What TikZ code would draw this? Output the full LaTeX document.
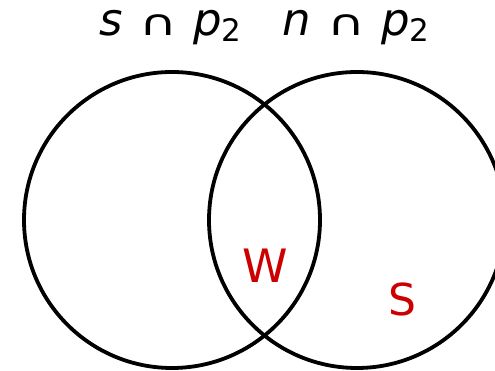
\documentclass[tikz,border=0pt]{standalone}
\usepackage{fontspec}
\setmainfont{DejaVu Sans}
\usetikzlibrary{positioning}

\definecolor{setred}{RGB}{204,0,0}
\newcommand{\capsym}{\hspace{0.36em}{\fontsize{40}{44}\selectfont\scalebox{1.3}[0.9]{∩}}\hspace{0.36em}}
\newcommand{\subtwo}{\raisebox{-0.22ex}{\fontsize{31}{34}\selectfont 2}}

\begin{document}
\begin{tikzpicture}[x=1pt,y=1pt]

%%% 枠
\useasboundingbox (0,0) rectangle (495,371);
\clip (0,0) rectangle (495,371);
%%%

%% 円
\draw[line width=3.8pt] (172,151) circle (148);
\draw[line width=3.8pt] (357,151) circle (148);

%% 集合名
\node[font=\fontsize{45}{50}\selectfont, anchor=base, inner sep=0pt] (sp) at (170.5,335)
  {\textit{s}\capsym\textit{p}\subtwo};
\node[font=\fontsize{45}{50}\selectfont, anchor=base, inner sep=0pt] (np) at (356,335)
  {\textit{n}\capsym\textit{p}\subtwo};

%% 要素
\node[font=\fontsize{46}{50}\selectfont, text=setred] (w) at (265,105) {W};
\node[font=\fontsize{44}{48}\selectfont, text=setred] (s) at (402,72) {S};

\end{tikzpicture}
\end{document}
